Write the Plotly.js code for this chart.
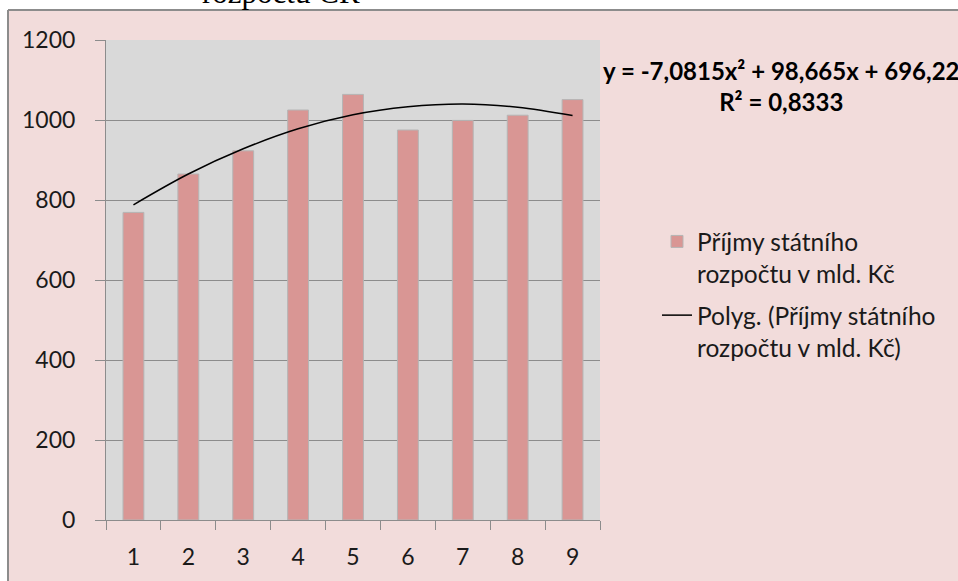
<!DOCTYPE html>
<html>
<head>
<meta charset="utf-8">
<script src="https://cdn.plot.ly/plotly-3.0.1.min.js"></script>
<style>html,body{margin:0;padding:0;background:#fff;}#chart{width:958px;height:581px;}</style>
</head>
<body>
<div id="chart"></div>
<script>
// ---- data ----
const categories = ['1', '2', '3', '4', '5', '6', '7', '8', '9'];
const revenue = [769, 865, 923, 1025, 1064, 975, 999, 1012, 1051];
const trendValues = [788, 865, 928, 978, 1013, 1033, 1040, 1032, 1011];
const yTicks = [0, 200, 400, 600, 800, 1000, 1200];
const seriesName = 'Příjmy státního<br>rozpočtu v mld. Kč';
const trendName = 'Polyg. (Příjmy státního<br>rozpočtu v mld. Kč)';
const equationText = 'y = -7,0815x² + 98,665x + 696,22<br>R² = 0,8333';
const headerText = 'rozpočtu ČR';

const FONT = 'Lato, "Noto Sans", sans-serif';
const W = 958, H = 581, L = 106, R = 358, T = 40, B = 61;
const pw = W - L - R, ph = H - T - B;
const px = v => (v - L) / pw;
const py = v => (H - B - v) / ph;

const traces = [
  {
    type: 'bar', x: categories, y: revenue, name: seriesName, legendgroup: 'g1',
    marker: {color: '#D99694', line: {color: '#B5B5B5', width: 1}}
  },
  {
    type: 'scatter', mode: 'lines', x: categories, y: trendValues, name: trendName, legendgroup: 'g2',
    line: {color: '#000000', width: 1.5, shape: 'spline'}
  }
];

const layout = {
  width: W, height: H,
  margin: {l: L, r: R, t: T, b: B, pad: 0},
  paper_bgcolor: '#F2DCDB',
  plot_bgcolor: '#D9D9D9',
  font: {family: FONT, size: 23, color: '#1a1a1a'},
  bargap: 0.62,
  showlegend: true,
  legend: {
    x: px(657), y: py(219), xanchor: 'left', yanchor: 'top',
    bgcolor: 'rgba(0,0,0,0)', borderwidth: 0,
    font: {family: FONT, size: 24.5, color: '#1a1a1a'},
    valign: 'top', traceorder: 'grouped', tracegroupgap: 7
  },
  xaxis: {
    type: 'category', tickson: 'boundaries',
    showline: true, linecolor: '#8C8C8C', linewidth: 1,
    ticks: 'outside', ticklen: 9, tickcolor: '#8C8C8C', tickwidth: 1,
    showgrid: false, zeroline: false,
    ticklabelstandoff: 16,
    tickfont: {family: FONT, size: 23, color: '#1a1a1a'}
  },
  yaxis: {
    range: [0, 1200], tickvals: yTicks, ticktext: yTicks.map(String),
    showline: true, linecolor: '#8C8C8C', linewidth: 1,
    ticks: 'outside', ticklen: 10, tickcolor: '#8C8C8C', tickwidth: 1,
    showgrid: true, gridcolor: '#8C8C8C', gridwidth: 1,
    zeroline: false,
    ticklabelstandoff: 15,
    tickfont: {family: FONT, size: 23, color: '#1a1a1a'}
  },
  shapes: [
    {type: 'rect', xref: 'paper', yref: 'paper', x0: px(-20), x1: px(980), y0: py(10), y1: py(-20),
      fillcolor: '#FFFFFF', line: {width: 0}, layer: 'below'},
    {type: 'rect', xref: 'paper', yref: 'paper', x0: px(-20), x1: px(8), y0: py(600), y1: py(10),
      fillcolor: '#FFFFFF', line: {width: 0}, layer: 'below'},
    {type: 'line', xref: 'paper', yref: 'paper', x0: px(8), x1: px(980), y0: py(10), y1: py(10),
      line: {color: '#8C8C8C', width: 2}, layer: 'below'},
    {type: 'line', xref: 'paper', yref: 'paper', x0: px(8), x1: px(8), y0: py(10), y1: py(600),
      line: {color: '#8C8C8C', width: 2}, layer: 'below'}
  ],
  annotations: [
    {xref: 'paper', yref: 'paper', x: px(781), y: py(86), xanchor: 'center', yanchor: 'middle',
      text: equationText, showarrow: false, align: 'center',
      font: {family: FONT, size: 24, color: '#000000', weight: 'bold'}},
    {xref: 'paper', yref: 'paper', x: px(200), y: py(12), xanchor: 'left', yanchor: 'bottom',
      text: headerText, showarrow: false,
      font: {family: '"Liberation Serif", "DejaVu Serif", serif', size: 31, color: '#000000'}}
  ]
};

Plotly.newPlot('chart', traces, layout, {displayModeBar: false, staticPlot: true});
</script>
</body>
</html>
